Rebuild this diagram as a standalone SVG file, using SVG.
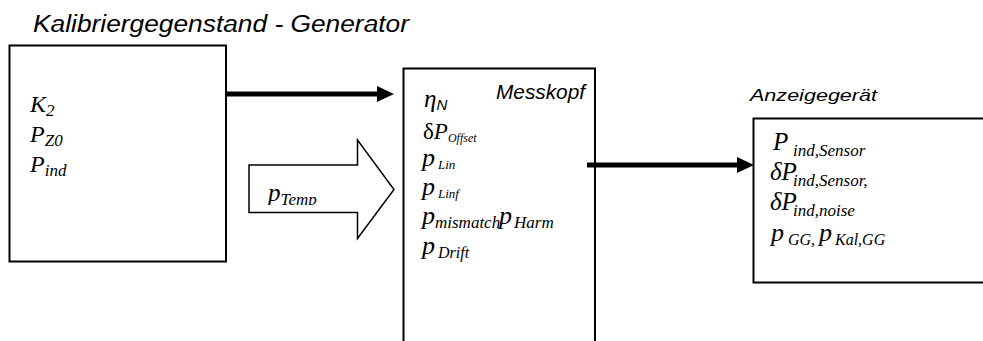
<svg xmlns="http://www.w3.org/2000/svg" width="983" height="341" viewBox="0 0 983 341">
<style>
.box{fill:#fff;stroke:#000;stroke-width:2}
.title{font-family:"Liberation Sans",Arial,sans-serif;font-style:italic;fill:#000}
.m{font-family:"Liberation Serif","Times New Roman",serif;font-style:italic;fill:#000}
.up{font-style:normal}
.conn{stroke:#000;stroke-width:5;fill:none}
</style>
<defs>
<marker id="ah" markerUnits="userSpaceOnUse" markerWidth="18" markerHeight="18" refX="0" refY="8" orient="auto">
<path d="M0,0 L17,8 L0,16 Z" fill="#000"/>
</marker>
<clipPath id="tclip"><rect x="250" y="166" width="107" height="39"/></clipPath>
</defs>
<rect width="983" height="341" fill="#fff"/>

<text class="title" x="33" y="32" font-size="23" textLength="376" lengthAdjust="spacingAndGlyphs">Kalibriergegenstand - Generator</text>

<g id="generator">
<rect class="box" x="9.5" y="45.5" width="216.5" height="216"/>
<text class="m" x="30" y="112" font-size="24">K<tspan font-size="17" y="116">2</tspan></text>
<text class="m" x="30" y="142" font-size="24">P<tspan font-size="17" y="146">Z0</tspan></text>
<text class="m" x="30" y="172" font-size="24">P<tspan font-size="17" y="176">ind</tspan></text>
</g>

<g id="messkopf">
<rect class="box" x="403.5" y="68.5" width="191.5" height="290"/>
<text class="title" x="496" y="99" font-size="20" textLength="89" lengthAdjust="spacingAndGlyphs">Messkopf</text>
<text class="m" x="424" y="107" font-size="25">η<tspan class="title" font-size="15" y="110">N</tspan></text>
<text class="m" x="423" y="139" font-size="23"><tspan class="up">δ</tspan>P<tspan font-size="12" y="142">Offset</tspan></text>
<text class="m" x="422" y="166" font-size="26">p<tspan font-size="13" x="438" y="169">Lin</tspan></text>
<text class="m" x="422" y="195" font-size="26">p<tspan font-size="13" x="438" y="198">Linf</tspan></text>
<text class="m" x="422" y="224" font-size="26">p<tspan font-size="17" x="435" y="228">mismatch</tspan><tspan x="499" y="224">p</tspan><tspan font-size="17" x="514" y="228">Harm</tspan></text>
<text class="m" x="422" y="254" font-size="26">p<tspan font-size="16" x="438" y="258">Drift</tspan></text>
</g>

<g id="anzeigegeraet">
<text class="title" x="750" y="101" font-size="17" textLength="127" lengthAdjust="spacingAndGlyphs">Anzeigegerät</text>
<rect class="box" x="753.5" y="118.5" width="240" height="164"/>
<text class="m" x="773" y="150" font-size="25">P<tspan font-size="17" x="793" y="156">ind,Sensor</tspan></text>
<text class="m" x="770" y="180" font-size="25">δP<tspan font-size="17" x="793" y="186">ind,Sensor,</tspan></text>
<text class="m" x="770" y="210" font-size="25">δP<tspan font-size="17" x="793" y="216">ind,noise</tspan></text>
<text class="m" x="771" y="241" font-size="26">p<tspan font-size="16" x="788" y="245">GG,</tspan><tspan x="819" y="241">p</tspan><tspan font-size="16" x="835" y="245">Kal,GG</tspan></text>
</g>

<g id="temp-input">
<polygon points="249,165 357.5,165 357.5,140 394,189.5 357.5,238.5 357.5,212.5 249,212.5" fill="#fff" stroke="#000" stroke-width="1.5"/>
<text class="m" x="268" y="201" font-size="25" clip-path="url(#tclip)">p<tspan font-size="17" y="205">Temp</tspan></text>
</g>

<g id="connectors">
<line class="conn" x1="226" y1="94" x2="377" y2="94" marker-end="url(#ah)"/>
<line class="conn" x1="587" y1="165" x2="737" y2="165" marker-end="url(#ah)"/>
</g>
</svg>
